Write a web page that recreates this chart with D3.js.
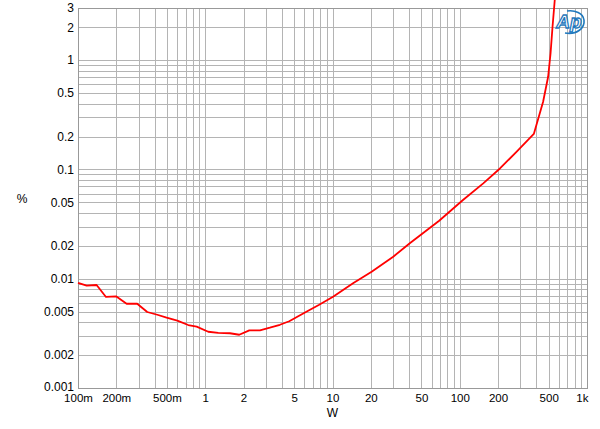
<!DOCTYPE html>
<html>
<head>
<meta charset="utf-8">
<script src="https://cdn.jsdelivr.net/npm/d3@7"></script>
<style>
  html, body { margin: 0; padding: 0; background: #fff; }
  svg { display: block; }
  text { font-family: "Liberation Sans", Arial, sans-serif; }
</style>
</head>
<body>
<svg id="chart" width="600" height="429"></svg>
<script>
// ---- data ----
const power = [0.1, 0.117, 0.14, 0.166, 0.199, 0.241, 0.292, 0.35, 0.42, 0.497, 0.603, 0.735, 0.856,
  1.056, 1.265, 1.563, 1.85, 2.22, 2.69, 3.22, 3.86, 4.57, 5.38, 6.44, 7.86, 10.1, 14.5, 20.3,
  30, 40.5, 68.9, 106, 153, 207, 279, 382, 452, 495, 517, 536, 558];
const thdn = [0.00918, 0.00863, 0.00876, 0.00681, 0.0069, 0.0059, 0.0059, 0.00496, 0.00468, 0.0044,
  0.00413, 0.00377, 0.00364, 0.00327, 0.00319, 0.00317, 0.00307, 0.00337, 0.00337, 0.00356, 0.00379,
  0.00408, 0.00453, 0.0051, 0.00578, 0.00684, 0.00908, 0.01159, 0.0159, 0.0211, 0.0339, 0.0525,
  0.0746, 0.102, 0.145, 0.211, 0.416, 0.705, 1.15, 2.02, 3.55];
const xTickValues = [0.1, 0.2, 0.5, 1, 2, 5, 10, 20, 50, 100, 200, 500, 1000];
const xTickLabels = ["100m", "200m", "500m", "1", "2", "5", "10", "20", "50", "100", "200", "500", "1k"];
const yTickValues = [0.001, 0.002, 0.005, 0.01, 0.02, 0.05, 0.1, 0.2, 0.5, 1, 2, 3];
const yTickLabels = ["0.001", "0.002", "0.005", "0.01", "0.02", "0.05", "0.1", "0.2", "0.5", "1", "2", "3"];
const xTitle = "W";
const yTitle = "%";

// ---- layout ----
const svg = d3.select("#chart");
const L = 78, R = 587, T = 8, B = 388;
const x = d3.scaleLog().domain([0.1, 1000]).range([L, R]);
const y = d3.scaleLog().domain([0.001, 3]).range([B, T]);

// grid values: 1..9 per decade
function gridVals(lo, hi) {
  const out = [];
  for (let e = Math.floor(Math.log10(lo)); e <= Math.ceil(Math.log10(hi)); e++) {
    for (let m = 1; m <= 9; m++) {
      const v = m * Math.pow(10, e);
      if (v >= lo * 0.9999 && v <= hi * 1.0001) out.push(v);
    }
  }
  return out;
}
const gx = gridVals(0.1, 1000);
const gy = gridVals(0.001, 3);

const grid = svg.append("g").attr("stroke", "#b4b4b4").attr("stroke-width", 1).attr("shape-rendering", "crispEdges");
grid.selectAll("line.v").data(gx).join("line")
  .attr("x1", d => Math.round(x(d)) + 0.5).attr("x2", d => Math.round(x(d)) + 0.5)
  .attr("y1", T).attr("y2", B);
grid.selectAll("line.h").data(gy).join("line")
  .attr("y1", d => Math.round(y(d)) + 0.5).attr("y2", d => Math.round(y(d)) + 0.5)
  .attr("x1", L).attr("x2", R);

// frame
svg.append("rect").attr("x", L + 0.5).attr("y", T + 0.5).attr("width", R - L).attr("height", B - T)
  .attr("fill", "none").attr("stroke", "#999").attr("shape-rendering", "crispEdges");

// axes
const xAxis = d3.axisBottom(x).tickValues(xTickValues)
  .tickFormat((d, i) => xTickLabels[i]).tickSize(0).tickPadding(6);
const gxA = svg.append("g").attr("transform", `translate(0,${B})`).call(xAxis);
gxA.select(".domain").remove();
gxA.selectAll("text").attr("font-size", 11.5).attr("fill", "#000").attr("font-family", "'Liberation Sans', Arial, sans-serif");
gxA.selectAll(".tick").filter(d => d === 1000).select("text").attr("text-anchor", "end").attr("x", 1);

const yAxis = d3.axisLeft(y).tickValues(yTickValues)
  .tickFormat((d, i) => yTickLabels[i]).tickSize(0).tickPadding(4);
const gyA = svg.append("g").attr("transform", `translate(${L},0)`).call(yAxis);
gyA.select(".domain").remove();
gyA.selectAll("text").attr("font-size", 12).attr("fill", "#000").attr("font-family", "'Liberation Sans', Arial, sans-serif");
gyA.selectAll(".tick").filter(d => d === 0.001).select("text").attr("dy", "0.2em");

// titles
svg.append("text").attr("x", (L + R) / 2).attr("y", 417).attr("text-anchor", "middle")
  .attr("font-size", 12).text(xTitle);
svg.append("text").attr("x", 22).attr("y", 203).attr("text-anchor", "middle")
  .attr("font-size", 12).text(yTitle);

// curve
const line = d3.line().x((d, i) => x(power[i])).y(d => y(d));
svg.append("path").datum(thdn).attr("d", line)
  .attr("fill", "none").attr("stroke", "#ff0000").attr("stroke-width", 1.8).attr("stroke-linejoin", "round");

// Ap logo
const logo = svg.append("g").attr("transform", "translate(569,22)");
logo.append("path").attr("d", "M -4 11 C 8 13, 16 6, 15 -2 C 14 -9, 6 -12, -2 -11")
  .attr("fill", "none").attr("stroke", "#1f78bd").attr("stroke-width", 1.6);
logo.append("text").attr("x", 0).attr("y", 6).attr("text-anchor", "middle")
  .attr("font-size", 19).attr("font-style", "italic").attr("font-weight", "bold")
  .attr("fill", "#fff").attr("stroke", "#1f78bd").attr("stroke-width", 1.3).text("Ap");
</script>
</body>
</html>
